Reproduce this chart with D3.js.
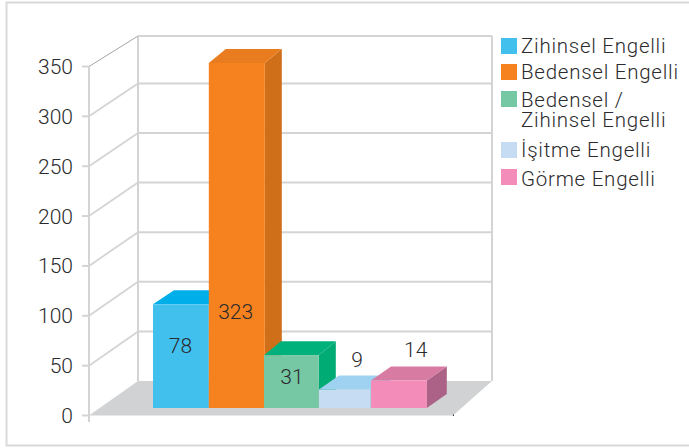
<!DOCTYPE html>
<html>
<head>
<meta charset="utf-8">
<script src="https://cdn.jsdelivr.net/npm/d3@7"></script>
<style>
  html, body { margin: 0; padding: 0; background: #fff; }
  text { font-family: Roboto, "Liberation Sans", sans-serif; font-weight: 300; fill: #2b2b2d; }
</style>
</head>
<body>
<div id="chart"></div>
<script>
// printed value on each bar
var categories = ["Zihinsel Engelli", "Bedensel Engelli", "Bedensel / Zihinsel Engelli", "İşitme Engelli", "Görme Engelli"];
var printed_values = [78, 323, 31, 9, 14];
// the bars in the picture do not follow the printed numbers, these are the heights
var bar_heights = [104, 346, 53, 18.5, 27.5];
var tick_values = [0, 50, 100, 150, 200, 250, 300, 350];
var legend_lines = [["Zihinsel Engelli"], ["Bedensel Engelli"], ["Bedensel /", "Zihinsel Engelli"], ["İşitme Engelli"], ["Görme Engelli"]];

var front_colors = ["#41c0ee", "#f6821f", "#76c8a5", "#c5dcf3", "#f38cb8"];
var top_colors = ["#00aeea", "#e97c1e", "#00b17b", "#9fd2f0", "#d87ba3"];
var side_colors = ["#00a0d8", "#d06f1a", "#00ab74", "#8fc4e4", "#ab6286"];

var width = 689, height = 448;
var bar_lift = 7.5;
var side_dx = [21, 17, 17, 20, 20];
var side_dy = -14;
// the bars are not evenly spaced in the picture
var bar_shift = [0, 1, 1.4, 1.6, -1.2];
var bar_grow = [1, 1.2, 0, -3.5, 1];

var svg = d3.select("#chart").append("svg")
    .attr("width", width)
    .attr("height", height)
    .style("display", "block");

var y = d3.scaleLinear().domain([0, 350]).range([415.5, 66.5]);
// back wall is drawn a little tighter at the top
var wall_y = d3.scaleLinear().domain([0, 250, 300, 350]).range([381, 133, 83.5, 36]);
var x = d3.scaleBand().domain(categories).range([153, 427]);

// outer frame
svg.append("path")
    .attr("d", "M689,2.5 H6.5 V445.5 H689")
    .attr("fill", "none")
    .attr("stroke", "#d9d9d9")
    .attr("stroke-width", 2);

// floor
svg.append("path")
    .attr("d", "M89," + y(0) + " L138," + wall_y(0) + " H492 L453," + y(0) + " Z")
    .attr("fill", "#d1d2d4");

// back wall and grid
var grid_color = "#d4d4d4";
svg.selectAll(".grid")
    .data(tick_values.slice(1))
    .enter().append("line")
    .attr("class", "grid")
    .attr("x1", 138)
    .attr("x2", 492)
    .attr("y1", function(d) { return wall_y(d); })
    .attr("y2", function(d) { return wall_y(d); })
    .attr("stroke", grid_color)
    .attr("stroke-width", 2);

svg.append("path")
    .attr("d", "M138," + wall_y(0) + " V" + wall_y(350) + " M492," + wall_y(350) + " V" + wall_y(0))
    .attr("fill", "none")
    .attr("stroke", grid_color)
    .attr("stroke-width", 2);

// side wall lines
svg.selectAll(".wall")
    .data(tick_values.slice(1))
    .enter().append("line")
    .attr("class", "wall")
    .attr("x1", 89)
    .attr("y1", function(d) { return y(d); })
    .attr("x2", 138)
    .attr("y2", function(d) { return wall_y(d); })
    .attr("stroke", function(d) { return d == 350 ? "#a5a5a5" : grid_color; })
    .attr("stroke-width", function(d) { return d == 350 ? 1 : 1.8; });

// front axis
svg.append("line")
    .attr("x1", 89).attr("x2", 89)
    .attr("y1", y(350)).attr("y2", 422)
    .attr("stroke", grid_color)
    .attr("stroke-width", 2);

svg.selectAll(".tick_mark")
    .data(tick_values)
    .enter().append("line")
    .attr("class", "tick_mark")
    .attr("x1", 82).attr("x2", 89)
    .attr("y1", function(d) { return y(d); })
    .attr("y2", function(d) { return y(d); })
    .attr("stroke", grid_color)
    .attr("stroke-width", 2);

svg.selectAll(".tick_label")
    .data(tick_values)
    .enter().append("text")
    .attr("class", "tick_label")
    .attr("x", 73)
    .attr("y", function(d) { return y(d) + 7.5; })
    .attr("text-anchor", "end")
    .attr("font-size", "21px")
    .text(function(d) { return d; });

// small black mark at the floor corner
svg.append("rect")
    .attr("x", 453).attr("y", y(0) - 1)
    .attr("width", 1).attr("height", 1.5)
    .attr("fill", "#333");

var bars = categories.map(function(c, i) {
    var x0 = x(c) + bar_shift[i], x1 = x0 + x.bandwidth() + bar_grow[i];
    var base = y(0) - bar_lift;
    var top = y(bar_heights[i]) - bar_lift;
    return { i: i, x0: x0, x1: x1, base: base, top: top, d: side_dx[i] };
});

var bar_group = svg.selectAll(".bar")
    .data(bars)
    .enter().append("g")
    .attr("class", "bar");

bar_group.append("path")
    .attr("d", function(b) {
        return "M" + b.x1 + "," + b.top + " L" + (b.x1 + b.d) + "," + (b.top + side_dy) +
            " V" + (b.base + side_dy) + " L" + b.x1 + "," + b.base + " Z";
    })
    .attr("fill", function(b) { return side_colors[b.i]; });

bar_group.append("path")
    .attr("d", function(b) {
        return "M" + b.x0 + "," + b.top + " L" + (b.x0 + b.d) + "," + (b.top + side_dy) +
            " H" + (b.x1 + b.d) + " L" + b.x1 + "," + b.top + " Z";
    })
    .attr("fill", function(b) { return top_colors[b.i]; });

bar_group.append("rect")
    .attr("x", function(b) { return b.x0; })
    .attr("y", function(b) { return b.top; })
    .attr("width", function(b) { return b.x1 - b.x0; })
    .attr("height", function(b) { return b.base - b.top; })
    .attr("fill", function(b) { return front_colors[b.i]; });

// value labels, inside for the first three and floating above for the last two
var label_x = [180.5, 235.7, 292, 357, 415.7];
var label_y = [352.7, 319.3, 384, 366.7, 357.3];
svg.selectAll(".value_label")
    .data(bars)
    .enter().append("text")
    .attr("class", "value_label")
    .attr("x", function(b) { return label_x[b.i]; })
    .attr("y", function(b) { return label_y[b.i]; })
    .attr("text-anchor", "middle")
    .attr("font-size", "21px")
    .text(function(b) { return printed_values[b.i]; });

// legend
var swatch_y = [38, 64, 91, 142, 169];
var legend_text_y = [[52.7], [79.3], [106.7, 127.3], [156.7], [186]];
var legend = svg.selectAll(".legend")
    .data(legend_lines)
    .enter().append("g")
    .attr("class", "legend");

legend.append("rect")
    .attr("x", 501)
    .attr("y", function(d, i) { return swatch_y[i]; })
    .attr("width", 16)
    .attr("height", 16)
    .attr("fill", function(d, i) { return front_colors[i]; });

legend.each(function(lines, i) {
    d3.select(this).selectAll("text")
        .data(lines)
        .enter().append("text")
        .attr("x", 521)
        .attr("y", function(d, j) { return legend_text_y[i][j]; })
        .attr("font-size", "20.5px")
        .attr("letter-spacing", "0.75")
        .text(function(d) { return d; });
});
</script>
</body>
</html>
